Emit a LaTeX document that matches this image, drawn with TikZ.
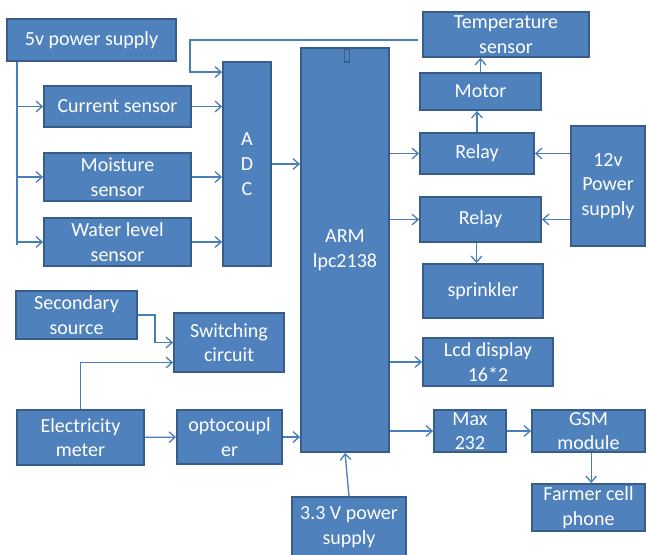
\documentclass[tikz,border=0pt]{standalone}
\usepackage{fontspec}
\setmainfont{Carlito}
\usepackage{xcolor}
\usetikzlibrary{arrows.meta,positioning}

\definecolor{boxfill}{HTML}{4F81BD}
\definecolor{boxline}{HTML}{385D8A}
\definecolor{wire}{HTML}{4A7EBB}

\begin{document}
\begin{tikzpicture}[x=0.75pt, y=-0.75pt,
  box/.style={draw=boxline, fill=boxfill, line width=1.4pt, inner sep=1pt,
              text=white, align=center,
              font=\fontsize{15}{18.5}\selectfont},
  wh/.style 2 args={minimum width=#1*0.75pt, minimum height=#2*0.75pt},
  arr/.style={-{Straight Barb[length=4.5pt, width=8pt]}, draw=wire, line width=1pt}]
\useasboundingbox (0,0) rectangle (646,555);
% power and sensors
\node[box, wh={169}{42}] (psu5) at (91.5,40) {5v power supply};
\node[box, wh={147}{41}] (cur) at (117.5,106.5) {Current sensor};
\node[box, wh={147}{48}] (moist) at (117.5,177) {Moisture\\sensor};
\node[box, wh={147}{48}] (water) at (117.5,242) {Water level\\sensor};
\node[box, wh={48}{204}] (adc) at (247,164) {A\\D\\C};
\node[box, wh={88}{404}] (arm) at (345,250) {ARM\\lpc2138};
\draw[draw=boxline, line width=1.4pt, fill=boxfill] (344.5,49) rectangle (349.5,62);
% right side
\node[box, wh={166}{45}] (temp) at (506,34.5) {Temperature\\sensor};
\node[box, wh={121}{37}] (motor) at (480.5,91.5) {Motor};
\node[box, wh={114}{41}] (relayA) at (477,153.5) {Relay};
\node[box, wh={121}{45}] (relayB) at (480.5,219.5) {Relay};
\node[box, wh={74}{120}] (psu12) at (608,186) {12v\\Power\\supply};
\node[box, wh={120}{54}] (sprink) at (483,291) {sprinkler};
\node[box, wh={130}{48}] (lcd) at (488,362) {Lcd display\\16*2};
\node[box, wh={72}{42}] (max) at (470,431) {Max\\232};
\node[box, wh={113}{42}] (gsm) at (588.5,431) {GSM\\module};
\node[box, wh={113}{47}] (phone) at (588.5,507.5) {Farmer cell\\phone};
\node[box, wh={114}{60}] (psu33) at (349,527) {3.3 V power\\supply};
% lower left
\node[box, wh={121}{48}] (sec) at (76.5,315) {Secondary\\source};
\node[box, wh={110}{59}] (sw) at (229,342.5) {Switching\\circuit};
\node[box, wh={127}{55}] (meter) at (80.5,437.5) {Electricity\\meter};
\node[box, wh={105}{54}] (opto) at (229.5,437) {optocoupl\\er};
% connectors
\coordinate (bus) at (17,245);
\coordinate (fb) at (418,40);
\draw[draw=wire, line width=1pt] (psu5.south -| bus) -- (bus);
\draw[arr] (cur.west -| bus) -- (cur.west);
\draw[arr] (moist.west -| bus) -- (moist.west);
\draw[arr] (water.west -| bus) -- (water.west);
\draw[arr] (cur) -- (cur -| adc.west);
\draw[arr] (moist) -- (moist -| adc.west);
\draw[arr] (water) -- (water -| adc.west);
\draw[arr] (fb) -| ([shift={(-32,11)}]adc.north west) -- ([shift={(0,11)}]adc.north west);
\draw[arr] (adc) -- (adc -| arm.west);
\draw[arr] (arm.east |- relayA) -- (relayA.west);
\draw[arr] (arm.east |- relayB) -- (relayB.west);
\draw[arr] (psu12.west |- relayA) -- (relayA.east);
\draw[arr] (psu12.west |- relayB) -- (relayB.east);
\draw[arr] (relayA.north) -- (relayA.north |- motor.south);
\draw[arr] (motor.north) -- (motor.north |- temp.south);
\draw[arr] ([xshift=-3pt]relayB.south) -- ([xshift=-3pt]relayB.south |- sprink.north);
\draw[arr] (arm.east |- lcd) -- (lcd.west);
\draw[arr] (arm.east |- max) -- (max.west);
\draw[arr] (max) -- (gsm);
\draw[arr] ([xshift=2pt]gsm.south) -- ([xshift=2pt]gsm.south |- phone.north);
\draw[arr] (psu33.north) -- (arm.south);
\draw[arr] (sec.east) -| ([shift={(-18,0)}]sw.west) -- (sw.west);
\draw[arr] (meter.north) |- ([shift={(0,20)}]sw.west);
\draw[arr] (meter) -- (opto);
\draw[arr] (opto) -- (opto -| arm.west);
\end{tikzpicture}
\end{document}
